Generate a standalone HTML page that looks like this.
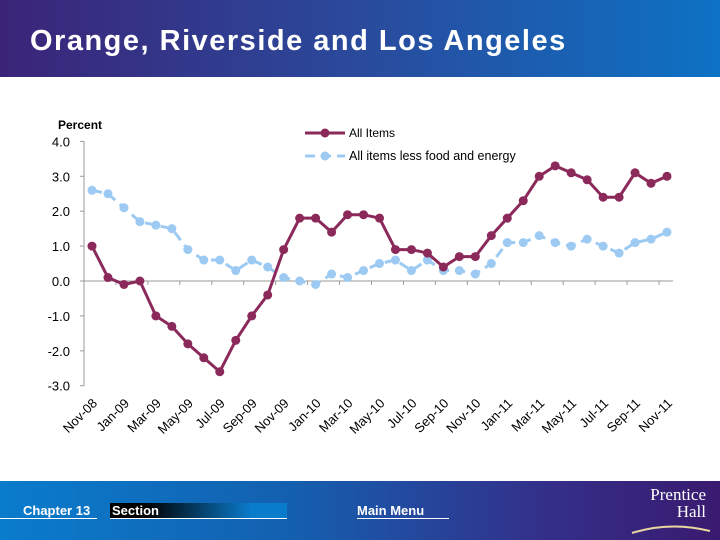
<!DOCTYPE html>
<html><head><meta charset="utf-8"><style>
body{margin:0;width:720px;height:540px;overflow:hidden;background:#fff;font-family:"Liberation Sans",sans-serif;position:relative}
#hdr{position:absolute;left:0;top:0;width:720px;height:77px;background:linear-gradient(90deg,#3b2478 0%,#2a4a9c 50%,#0d72c4 100%)}
#hdr div{position:absolute;left:30px;top:25px;color:#fff;font-size:29px;font-weight:bold;letter-spacing:1.5px}
#ftr{position:absolute;left:0;top:481px;width:720px;height:59px;background:linear-gradient(90deg,#0a7ccc 0%,#1460b0 40%,#33308a 75%,#3a1a70 100%)}
.fl{position:absolute;color:#fff;font-weight:bold;font-size:13px}
</style></head><body>
<div id="hdr"><div>Orange, Riverside and Los Angeles</div></div>
<svg id="chart" width="720" height="480" style="position:absolute;left:0;top:0"></svg>
<div id="ftr">
<div class="fl" style="left:0;top:22px;width:97px;border-bottom:1px solid #fff;padding-left:23px;box-sizing:border-box">Chapter 13</div>
<div class="fl" style="left:110px;top:22px;width:177px;height:16px;background:linear-gradient(90deg,#000 0%,#000 20%,#0a7ccc 80%);border-bottom:1px solid #fff;padding-left:2px;box-sizing:border-box">Section</div>
<div class="fl" style="left:357px;top:22px;width:92px;border-bottom:1px solid #fff">Main Menu</div>
<div style="position:absolute;left:636px;top:5px;color:#fff;font-family:'Liberation Serif',serif;font-size:17px;line-height:17px;text-align:right;width:70px">Prentice<br>Hall</div>
<svg style="position:absolute;left:630px;top:40px" width="85" height="14"><path d="M2 12 Q40 0 80 10" stroke="#e8d8a0" stroke-width="2" fill="none"/></svg>
</div>
<script>
const months=["Nov-08","Dec-08","Jan-09","Feb-09","Mar-09","Apr-09","May-09","Jun-09","Jul-09","Aug-09","Sep-09","Oct-09","Nov-09","Dec-09","Jan-10","Feb-10","Mar-10","Apr-10","May-10","Jun-10","Jul-10","Aug-10","Sep-10","Oct-10","Nov-10","Dec-10","Jan-11","Feb-11","Mar-11","Apr-11","May-11","Jun-11","Jul-11","Aug-11","Sep-11","Oct-11","Nov-11"];
const allItems=[1.0,0.1,-0.1,0.0,-1.0,-1.3,-1.8,-2.2,-2.6,-1.7,-1.0,-0.4,0.9,1.8,1.8,1.4,1.9,1.9,1.8,0.9,0.9,0.8,0.4,0.7,0.7,1.3,1.8,2.3,3.0,3.3,3.1,2.9,2.4,2.4,3.1,2.8,3.0];
const coreItems=[2.6,2.5,2.1,1.7,1.6,1.5,0.9,0.6,0.6,0.3,0.6,0.4,0.1,0.0,-0.1,0.2,0.1,0.3,0.5,0.6,0.3,0.6,0.3,0.3,0.2,0.5,1.1,1.1,1.3,1.1,1.0,1.2,1.0,0.8,1.1,1.2,1.4];
const yTicks=[4,3,2,1,0,-1,-2,-3];
const NS="http://www.w3.org/2000/svg";
const svg=document.getElementById('chart');
const x=i=>92+i*(667-92)/(months.length-1);
const y=v=>281-v*34.9;
function mk(t,a){const e=document.createElementNS(NS,t);for(const k in a)e.setAttribute(k,a[k]);svg.appendChild(e);return e;}
let e=mk('line',{x1:84,y1:y(4),x2:84,y2:y(-3),stroke:'#999'});


e=mk('line',{x1:84,y1:y(0),x2:673,y2:y(0),stroke:'#999'});


yTicks.forEach(v=>{
 mk('line',{x1:80,x2:84,y1:y(v),y2:y(v),stroke:'#999'});
 const t=mk('text',{x:70,y:y(v)+5,'text-anchor':'end','font-size':13,fill:'#000'});
 t.textContent=v.toFixed(1);
 
 
});
e=mk('text',{x:58,y:129,'font-size':12,'font-weight':'bold'});e.textContent='Percent';


months.forEach((m,i)=>{
 if(i%2)return;
 mk('line',{x1:x(i)-8,x2:x(i)-8,y1:y(0),y2:y(0)+4,stroke:'#999'});
 const t=mk('text',{x:x(i)+6,y:404,'text-anchor':'end','font-size':13,transform:`rotate(-45 ${x(i)+6} 404)`});
 t.textContent=m;
 
 
});
function series(vals,color,dash,name){
 const p=mk('polyline',{points:vals.map((v,i)=>x(i)+','+y(v)).join(' '),fill:'none',stroke:color,'stroke-width':3,'stroke-dasharray':dash});
 
 
 vals.forEach((v,i)=>{const c=mk('circle',{cx:x(i),cy:y(v),r:4.5,fill:color});
 
 });
}
series(coreItems,'#9ccaf2','10,6','core-items');
series(allItems,'#8b2a5a','none','all-items');
e=mk('line',{x1:305,x2:345,y1:133,y2:133,stroke:'#8b2a5a','stroke-width':3});
mk('circle',{cx:325,cy:133,r:4.5,fill:'#8b2a5a'});
e=mk('text',{x:349,y:137,'font-size':12});e.textContent='All Items';


mk('line',{x1:305,x2:345,y1:156,y2:156,stroke:'#9ccaf2','stroke-width':3,'stroke-dasharray':'10,6'});
mk('circle',{cx:325,cy:156,r:4.5,fill:'#9ccaf2'});
e=mk('text',{x:349,y:160,'font-size':12.5});e.textContent='All items less food and energy';


</script>
</body></html>
